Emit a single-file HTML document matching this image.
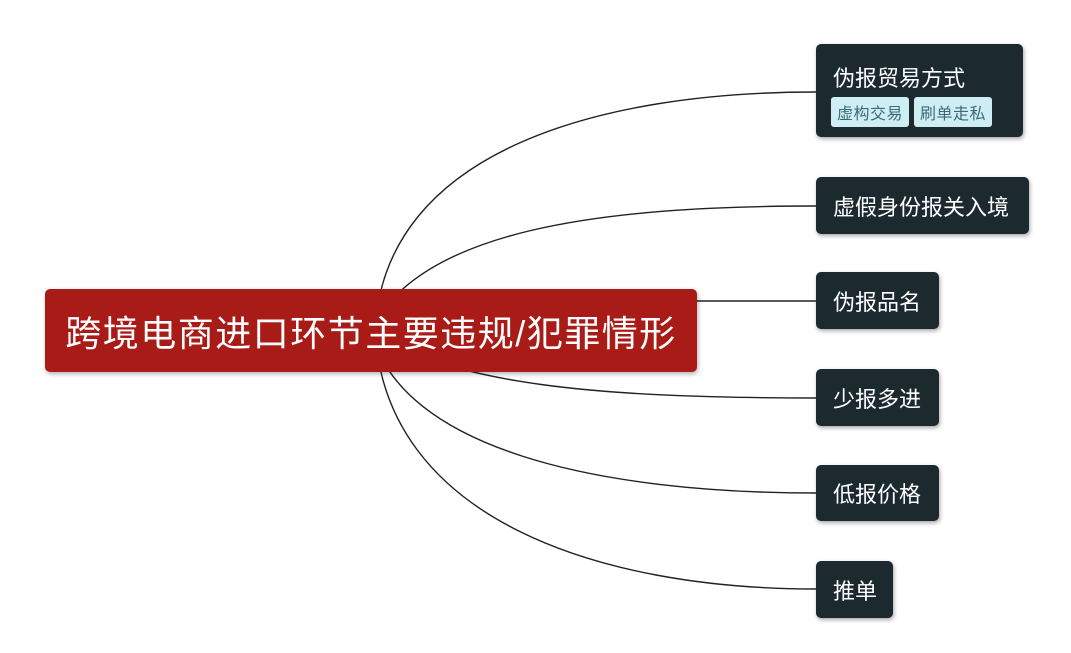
<!DOCTYPE html>
<html><head><meta charset="utf-8"><style>
body{margin:0;width:1071px;height:653px;background:#fff;position:relative;overflow:hidden;font-family:"Liberation Sans","Noto Sans CJK SC",sans-serif}
.n{position:absolute;background:#1c2a30;color:#fff;border-radius:5px;box-shadow:1px 2px 4px rgba(0,0,0,.35);font-size:22px;box-sizing:border-box;padding-left:17px;display:flex;align-items:center}
.c{position:absolute;left:45px;top:289px;width:652px;height:83px;background:#a91b16;border-radius:5px;color:#fff;font-size:36px;letter-spacing:1.5px;display:flex;align-items:center;justify-content:center;box-shadow:1px 2px 5px rgba(0,0,0,.3)}
.t{display:inline-block;background:#cfeef3;color:#3a6a78;font-size:16px;padding:3px 6px;border-radius:3px;margin-right:5px;letter-spacing:0.5px}
</style></head><body>
<svg width="1071" height="653" style="position:absolute;left:0;top:0">
<g fill="none" stroke="#222" stroke-width="1.4">
<path d="M375,330 C385,150 600,92 816,92"/>
<path d="M371,330 C420,230 600,206 816,206"/>
<path d="M600,301 L816,301"/>
<path d="M371,330 C450,385 600,398 816,398"/>
<path d="M371,330 C400,450 600,493 816,493"/>
<path d="M375,330 C385,520 600,589 816,589"/>
</g></svg>
<div class="c">跨境电商进口环节主要违规/犯罪情形</div>
<div class="n" style="left:816px;top:44px;width:207px;height:93px;display:block;padding-top:17px">伪报贸易方式<div style="margin-top:4px;margin-left:-2px"><span class="t">虚构交易</span><span class="t">刷单走私</span></div></div>
<div class="n" style="left:816px;top:177px;width:213px;height:57px">虚假身份报关入境</div>
<div class="n" style="left:816px;top:272px;width:123px;height:57px">伪报品名</div>
<div class="n" style="left:816px;top:369px;width:123px;height:57px">少报多进</div>
<div class="n" style="left:816px;top:465px;width:123px;height:56px">低报价格</div>
<div class="n" style="left:816px;top:561px;width:77px;height:57px">推单</div>
</body></html>
